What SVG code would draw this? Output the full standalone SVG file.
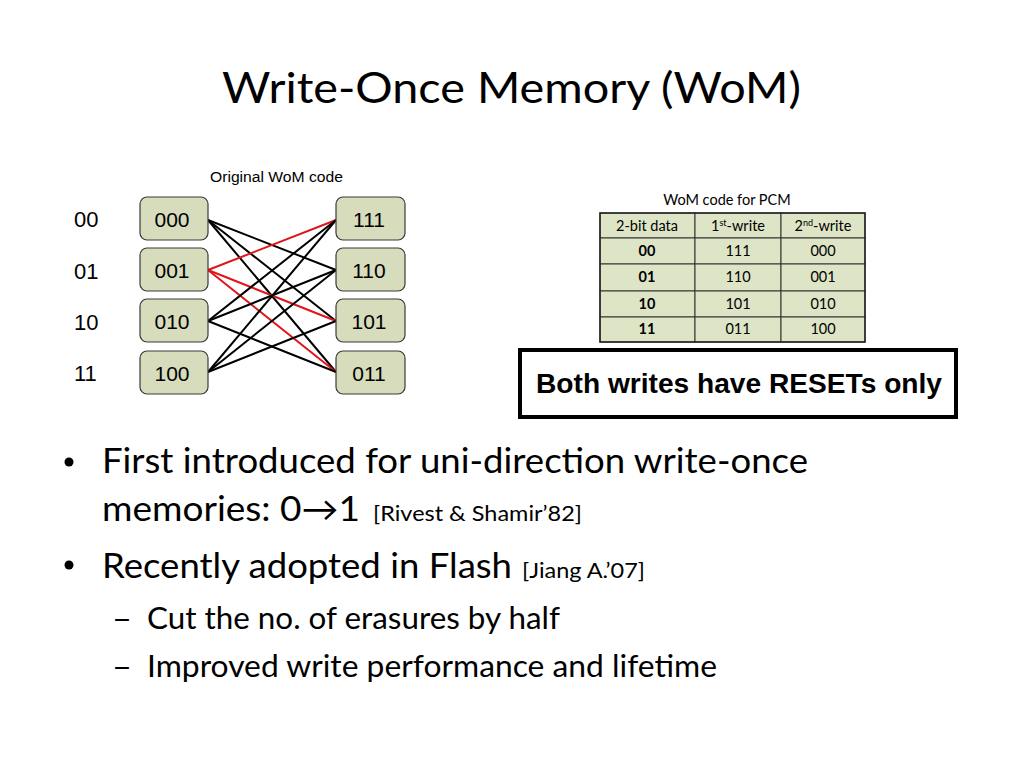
<svg xmlns="http://www.w3.org/2000/svg" width="1024" height="768" viewBox="0 0 1024 768">
<style>
.cal{font-family:Lato,"Open Sans","DejaVu Sans",sans-serif;fill:#000}
.ari{font-family:"Liberation Sans",Arial,sans-serif;fill:#000}
.node rect{fill:#d6dcbc;stroke:#3a3a3a;stroke-width:1.2}
.node text{font-family:"Liberation Sans",Arial,sans-serif;font-size:21px;text-anchor:middle}
.edges line{stroke:#000;stroke-width:2}
.edges line.red{stroke:#e0141b}
.cell{fill:#dde5c6;stroke:#333;stroke-width:1}
.tt{font-family:Lato,"Open Sans",sans-serif;font-size:14.5px;text-anchor:middle}
</style>
<rect width="1024" height="768" fill="#fff"/>
<text class="cal" x="222" y="103" font-size="43" textLength="579" lengthAdjust="spacingAndGlyphs">Write-Once Memory (WoM)</text>

<text class="ari" x="210" y="182" font-size="14" textLength="133" lengthAdjust="spacingAndGlyphs">Original WoM code</text>
<g class="ari" font-size="22">
<text x="74" y="227">00</text>
<text x="74" y="279">01</text>
<text x="74" y="330">10</text>
<text x="74" y="381">11</text>
</g>

<g class="edges" id="connectors">
<line x1="208" y1="220" x2="336" y2="270"/>
<line x1="208" y1="220" x2="336" y2="321"/>
<line x1="208" y1="220" x2="336" y2="372"/>
<line class="red" x1="208" y1="270" x2="336" y2="220"/>
<line class="red" x1="208" y1="270" x2="336" y2="321"/>
<line class="red" x1="208" y1="270" x2="336" y2="372"/>
<line x1="208" y1="321" x2="336" y2="220"/>
<line x1="208" y1="321" x2="336" y2="270"/>
<line x1="208" y1="321" x2="336" y2="372"/>
<line x1="208" y1="372" x2="336" y2="220"/>
<line x1="208" y1="372" x2="336" y2="270"/>
<line x1="208" y1="372" x2="336" y2="321"/>
</g>

<g class="node" id="n000"><rect x="140" y="197" width="68" height="43" rx="7"/><text x="172" y="227">000</text></g>
<g class="node" id="n001"><rect x="140" y="248" width="68" height="43" rx="7"/><text x="172" y="278">001</text></g>
<g class="node" id="n010"><rect x="140" y="299" width="68" height="43" rx="7"/><text x="172" y="329">010</text></g>
<g class="node" id="n100"><rect x="140" y="351" width="68" height="43" rx="7"/><text x="172" y="381">100</text></g>
<g class="node" id="n111"><rect x="336" y="197" width="69" height="43" rx="7"/><text x="369" y="227">111</text></g>
<g class="node" id="n110"><rect x="336" y="248" width="69" height="43" rx="7"/><text x="369" y="278">110</text></g>
<g class="node" id="n101"><rect x="336" y="299" width="69" height="43" rx="7"/><text x="369" y="329">101</text></g>
<g class="node" id="n011"><rect x="336" y="351" width="69" height="43" rx="7"/><text x="369" y="381">011</text></g>

<g id="table">
<text class="tt" x="727" y="205" font-size="13.5">WoM code for PCM</text>
<rect class="cell" x="600" y="213" width="95" height="25"/>
<rect class="cell" x="695" y="213" width="86" height="25"/>
<rect class="cell" x="781" y="213" width="84" height="25"/>
<rect class="cell" x="600" y="238" width="95" height="26"/>
<rect class="cell" x="695" y="238" width="86" height="26"/>
<rect class="cell" x="781" y="238" width="84" height="26"/>
<rect class="cell" x="600" y="264" width="95" height="27"/>
<rect class="cell" x="695" y="264" width="86" height="27"/>
<rect class="cell" x="781" y="264" width="84" height="27"/>
<rect class="cell" x="600" y="291" width="95" height="26"/>
<rect class="cell" x="695" y="291" width="86" height="26"/>
<rect class="cell" x="781" y="291" width="84" height="26"/>
<rect class="cell" x="600" y="317" width="95" height="25"/>
<rect class="cell" x="695" y="317" width="86" height="25"/>
<rect class="cell" x="781" y="317" width="84" height="25"/>
<rect x="600" y="213" width="265" height="129" fill="none" stroke="#222" stroke-width="1.5"/>
<text class="tt" x="647" y="231">2-bit data</text>
<text class="tt" x="738" y="231">1<tspan font-size="9" dy="-5">st</tspan><tspan dy="5">-write</tspan></text>
<text class="tt" x="823" y="231">2<tspan font-size="9" dy="-5">nd</tspan><tspan dy="5">-write</tspan></text>
<g font-weight="bold">
<text class="tt" x="647" y="256">00</text>
<text class="tt" x="647" y="282">01</text>
<text class="tt" x="647" y="309">10</text>
<text class="tt" x="647" y="334">11</text>
</g>
<text class="tt" x="738" y="256">111</text>
<text class="tt" x="738" y="282">110</text>
<text class="tt" x="738" y="309">101</text>
<text class="tt" x="738" y="334">011</text>
<text class="tt" x="823" y="256">000</text>
<text class="tt" x="823" y="282">001</text>
<text class="tt" x="823" y="309">010</text>
<text class="tt" x="823" y="334">100</text>
</g>

<g id="note">
<rect x="520" y="350" width="436" height="67" fill="#fff" stroke="#000" stroke-width="4"/>
<text class="ari" x="536" y="393" font-size="28" font-weight="bold" textLength="406" lengthAdjust="spacingAndGlyphs">Both writes have RESETs only</text>
</g>

<g id="bullets">
<circle cx="69" cy="462" r="4.5"/>
<circle cx="69" cy="565" r="4.5"/>
<text class="cal" x="102" y="473" font-size="34" textLength="706" lengthAdjust="spacingAndGlyphs">First introduced for uni-direction write-once</text>
<text class="cal" x="102" y="521" font-size="34" textLength="258" lengthAdjust="spacingAndGlyphs">memories: 0→1</text>
<text class="cal" x="373" y="521" font-size="21" textLength="209" lengthAdjust="spacingAndGlyphs">[Rivest &amp; Shamir’82]</text>
<text class="cal" x="102" y="578" font-size="34" textLength="410" lengthAdjust="spacingAndGlyphs">Recently adopted in Flash</text>
<text class="cal" x="522" y="578" font-size="21" textLength="123" lengthAdjust="spacingAndGlyphs">[Jiang A.’07]</text>
<text class="cal" x="112" y="629" font-size="29" textLength="20" lengthAdjust="spacingAndGlyphs">–</text>
<text class="cal" x="147" y="629" font-size="30" textLength="413" lengthAdjust="spacingAndGlyphs">Cut the no. of erasures by half</text>
<text class="cal" x="112" y="677" font-size="29" textLength="20" lengthAdjust="spacingAndGlyphs">–</text>
<text class="cal" x="147" y="677" font-size="30" textLength="570" lengthAdjust="spacingAndGlyphs">Improved write performance and lifetime</text>
</g>
</svg>
